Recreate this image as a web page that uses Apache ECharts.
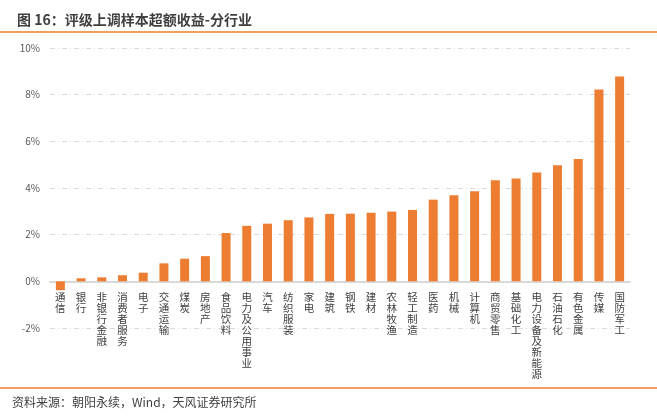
<!DOCTYPE html>
<html>

<head>
    <meta charset="UTF-8">
    <title>评级上调样本超额收益-分行业</title>
    <script src="https://cdn.jsdelivr.net/npm/echarts@6.0.0/dist/echarts.min.js"></script>
    <style>
        html, body { margin: 0; padding: 0; background: #fff; }
    </style>
</head>

<body>
    <div id="main" style="width: 657px; height: 417px;"></div>
    <script>
        // 行业
        const categories = [
            '通信', '银行', '非银行金融', '消费者服务', '电子', '交通运输', '煤炭',
            '房地产', '食品饮料', '电力及公用事业', '汽车', '纺织服装', '家电', '建筑',
            '钢铁', '建材', '农林牧渔', '轻工制造', '医药', '机械', '计算机',
            '商贸零售', '基础化工', '电力设备及新能源', '石油石化', '有色金属', '传媒', '国防军工'
        ];

        // 超额收益（%）
        const values = [
            -0.38, 0.13, 0.17, 0.26, 0.37, 0.77, 0.97,
            1.08, 2.07, 2.38, 2.47, 2.62, 2.74, 2.89,
            2.90, 2.94, 2.99, 3.06, 3.50, 3.69, 3.86,
            4.33, 4.41, 4.66, 4.97, 5.24, 8.22, 8.78
        ];

        // y 轴刻度（%）
        const yMin = -2;
        const yMax = 10;
        const yStep = 2;

        const titleText = '图 16：评级上调样本超额收益-分行业';
        const sourceText = '资料来源：朝阳永续，Wind，天风证券研究所';

        const cjk = '"Noto Sans CJK SC", "Microsoft YaHei", sans-serif';

        const W = 657, H = 417;
        const gridTop = 48, gridBottom = 89;
        const plotH = H - gridTop - gridBottom;
        // 类目轴标签放在 0 线下方：按 y 轴比例把轴向上移
        const zeroShift = -(0 - yMin) / (yMax - yMin) * plotH;

        const option = {
            backgroundColor: '#fff',
            textStyle: { fontFamily: cjk },
            title: {
                text: titleText,
                left: 12,
                top: 8,
                textStyle: {
                    fontSize: 14,
                    fontWeight: 'bold',
                    color: '#3f3f3f',
                    fontFamily: cjk
                }
            },
            graphic: [
                {
                    type: 'line',
                    shape: { x1: 0, y1: 32, x2: W, y2: 32 },
                    style: { stroke: '#ED7D31', lineWidth: 1.5 }
                },
                {
                    type: 'line',
                    shape: { x1: 0, y1: 388, x2: W, y2: 388 },
                    style: { stroke: '#ED7D31', lineWidth: 1.5 }
                },
                {
                    type: 'text',
                    left: 12,
                    top: 396,
                    style: {
                        text: sourceText,
                        fontSize: 12,
                        fill: '#3f3f3f',
                        fontFamily: cjk
                    }
                }
            ],
            grid: {
                left: 50,
                right: 27,
                top: gridTop,
                bottom: gridBottom,
                containLabel: false,
                outerBoundsMode: 'none'
            },
            xAxis: {
                type: 'category',
                data: categories,
                offset: zeroShift,
                axisTick: { show: false },
                axisLine: {
                    onZero: true,
                    lineStyle: { color: '#d9d9d9', width: 2 }
                },
                axisLabel: {
                    interval: 0,
                    margin: 10,
                    fontSize: 10.5,
                    lineHeight: 11,
                    color: '#404040',
                    verticalAlign: 'top',
                    formatter: function (v) {
                        return v.split('').join('\n');
                    }
                }
            },
            yAxis: {
                type: 'value',
                min: yMin,
                max: yMax,
                interval: yStep,
                axisLine: { show: false },
                axisTick: { show: false },
                axisLabel: {
                    formatter: '{value}%',
                    fontSize: 10,
                    color: '#595959',
                    margin: 10,
                    fontFamily: cjk
                },
                splitLine: {
                    lineStyle: {
                        color: '#d9d9d9',
                        width: 1,
                        type: [5, 3, 1, 3]
                    }
                }
            },
            series: [
                {
                    name: '超额收益',
                    type: 'bar',
                    data: values,
                    barWidth: 9,
                    itemStyle: {
                        color: '#ED7D31'
                    }
                }
            ]
        };

        const myChart = echarts.init(document.getElementById('main'));
        myChart.setOption(option);

        window.addEventListener('resize', function () {
            myChart.resize();
        });
    </script>
</body>

</html>
